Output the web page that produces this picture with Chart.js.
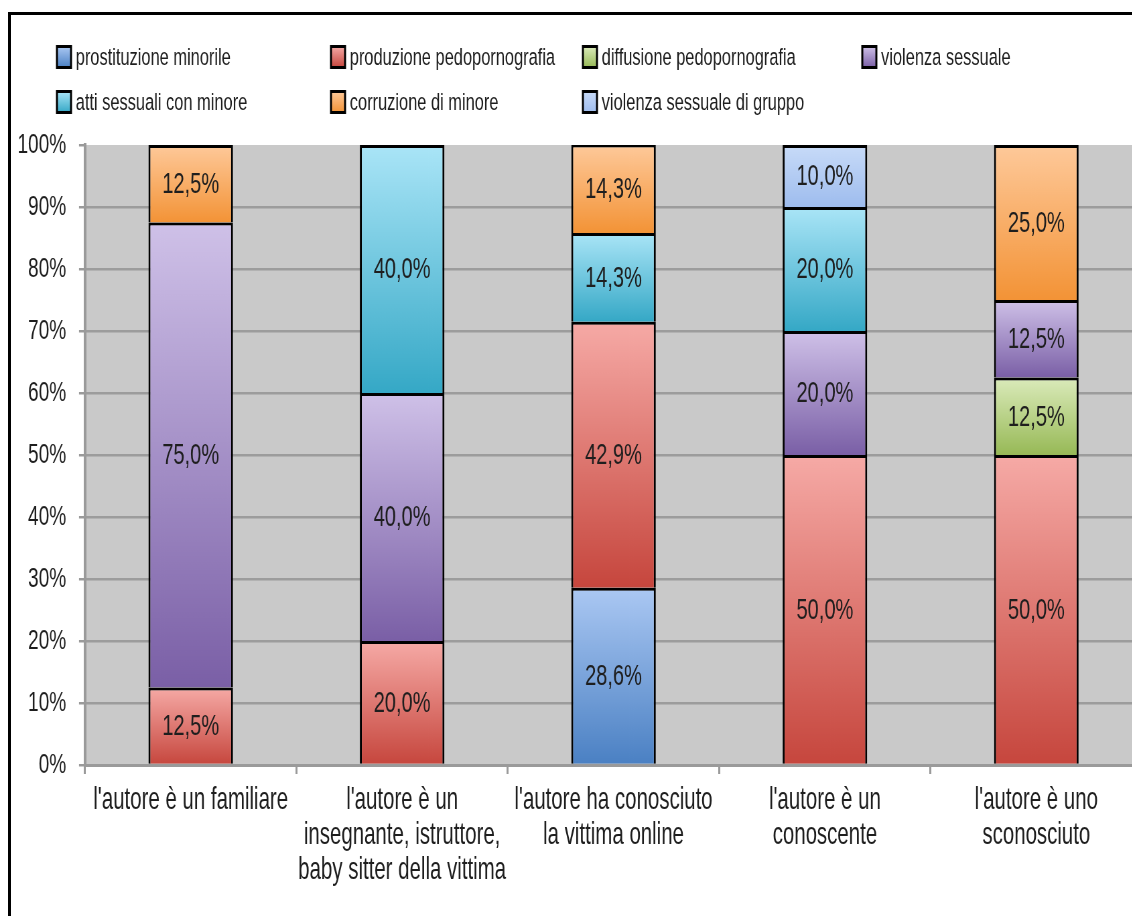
<!DOCTYPE html>
<html lang="it">
<head>
<meta charset="utf-8">
<script src="https://cdn.jsdelivr.net/npm/chart.js@4/dist/chart.umd.min.js"></script>
<style>
  html, body { margin: 0; padding: 0; background: #fff; overflow: hidden; width: 1132px; height: 916px; }
  #frame { position: absolute; left: 8px; top: 12px; width: 1300px; height: 1000px;
           border-left: 3px solid #000; border-top: 3px solid #000; }
  /* the chart is laid out on a wider canvas and narrowed horizontally for a condensed look */
  #wrap { position: absolute; left: 0; top: 0; width: 1716px; height: 916px;
          transform: scaleX(0.67); transform-origin: 0 0; }
</style>
</head>
<body>
<div id="frame"></div>
<div id="wrap"><canvas id="chart" width="1716" height="916"></canvas></div>
<script>
// ---- data ----
const categories = [
  "l'autore è un familiare",
  ["l'autore è un", "insegnante, istruttore,", "baby sitter della vittima"],
  ["l'autore ha conosciuto", "la vittima online"],
  ["l'autore è un", "conoscente"],
  ["l'autore è uno", "sconosciuto"]
];
const seriesNames = [
  'prostituzione minorile',
  'produzione pedopornografia',
  'diffusione pedopornografia',
  'violenza sessuale',
  'atti sessuali con minore',
  'corruzione di minore',
  'violenza sessuale di gruppo'
];
const prostituzioneMinorile   = [null, null, 28.6, null, null];
const produzionePedoporno     = [12.5, 20.0, 42.9, 50.0, 50.0];
const diffusionePedoporno     = [null, null, null, null, 12.5];
const violenzaSessuale        = [75.0, 40.0, null, 20.0, 12.5];
const attiSessuali            = [null, 40.0, 14.3, 20.0, null];
const corruzioneMinore        = [12.5, null, 14.3, null, 25.0];
const violenzaGruppo          = [null, null, null, 10.0, null];
const yTickValues = [0, 10, 20, 30, 40, 50, 60, 70, 80, 90, 100];

// ---- styling ----
const FONT = "'Liberation Sans', Arial, Helvetica, sans-serif";
const TEXT = '#1e1e1e';
const fills = [               // [top, bottom] of each segment's gradient
  ['#abc8f3', '#4a80c3'],
  ['#f6aaa6', '#c6463d'],
  ['#dbebbb', '#97b956'],
  ['#cfc1e8', '#7a5fa6'],
  ['#aae5f7', '#35a8c6'],
  ['#fec99a', '#f39336'],
  ['#c8dbf8', '#9ebcee']
];
const seriesValues = [prostituzioneMinorile, produzionePedoporno, diffusionePedoporno,
  violenzaSessuale, attiSessuali, corruzioneMinore, violenzaGruppo];

function segmentFill(ctx) {
  const pair = fills[ctx.datasetIndex];
  const chart = ctx.chart;
  if (ctx.type !== 'data' || !chart.chartArea || !chart.scales.y) return pair[0];
  let start = 0;
  for (let d = 0; d < ctx.datasetIndex; d++) start += chart.data.datasets[d].data[ctx.dataIndex] || 0;
  const end = start + (ctx.raw || 0);
  const top = chart.scales.y.getPixelForValue(Math.min(end, 100));
  const bottom = chart.scales.y.getPixelForValue(start);
  if (!isFinite(top) || !isFinite(bottom) || top === bottom) return pair[0];
  const g = chart.ctx.createLinearGradient(0, top, 0, bottom);
  g.addColorStop(0, pair[0]);
  g.addColorStop(1, pair[1]);
  return g;
}

const datasets = seriesNames.map((name, i) => ({
  label: name,
  data: seriesValues[i],
  backgroundColor: segmentFill,
  borderColor: '#000',
  borderWidth: 3,
  borderSkipped: 'start',
  barPercentage: 0.4,
  categoryPercentage: 1.0
}));

// gray plot background
const plotBackground = {
  id: 'plotBackground',
  beforeDraw(chart) {
    const { ctx, chartArea: a } = chart;
    ctx.save();
    ctx.fillStyle = '#c9c9c9';
    ctx.fillRect(a.left, a.top, a.right - a.left, a.bottom - a.top);
    ctx.restore();
  }
};

// value written in the middle of every segment
const segmentLabels = {
  id: 'segmentLabels',
  afterDatasetsDraw(chart) {
    const ctx = chart.ctx;
    ctx.save();
    ctx.font = `30px ${FONT}`;
    ctx.fillStyle = TEXT;
    ctx.textAlign = 'center';
    ctx.textBaseline = 'middle';
    chart.data.datasets.forEach((ds, di) => {
      const meta = chart.getDatasetMeta(di);
      meta.data.forEach((el, j) => {
        const v = ds.data[j];
        if (v === null || v === undefined) return;
        const p = el.getProps(['x', 'y', 'base'], true);
        const txt = v.toFixed(1).replace('.', ',') + '%';
        ctx.fillText(txt, p.x, (p.y + p.base) / 2 + 1);
      });
    });
    ctx.restore();
  }
};

// legend laid out as a grid of four columns
const gridLegend = {
  id: 'gridLegend',
  afterDraw(chart) {
    const ctx = chart.ctx;
    const cols = [85, 494, 870, 1287];
    const rows = [57, 102];
    const box = 21;
    ctx.save();
    ctx.font = `24.5px ${FONT}`;
    ctx.textBaseline = 'middle';
    ctx.textAlign = 'left';
    chart.data.datasets.forEach((ds, i) => {
      const x = cols[i % 4];
      const y = rows[Math.floor(i / 4)];
      const g = ctx.createLinearGradient(0, y - box / 2, 0, y + box / 2);
      g.addColorStop(0, fills[i][0]);
      g.addColorStop(1, fills[i][1]);
      ctx.fillStyle = g;
      ctx.fillRect(x, y - box / 2, box, box);
      ctx.lineWidth = 3;
      ctx.strokeStyle = '#000';
      ctx.strokeRect(x, y - box / 2, box, box);
      ctx.fillStyle = TEXT;
      ctx.fillText(ds.label, x + box + 7, y + 1);
    });
    ctx.restore();
  }
};

new Chart(document.getElementById('chart'), {
  type: 'bar',
  data: { labels: categories, datasets },
  plugins: [plotBackground, segmentLabels, gridLegend],
  options: {
    responsive: false,
    animation: false,
    events: [],
    layout: { padding: { top: 145, right: 11.5, left: 0, bottom: 0 } },
    plugins: { legend: { display: false }, tooltip: { enabled: false }, title: { display: false } },
    scales: {
      x: {
        stacked: true,
        grid: { offset: true, drawOnChartArea: false, drawTicks: true, tickLength: 9,
                color: '#9a9a9a', lineWidth: 3 },
        border: { display: true, color: '#9a9a9a', width: 3 },
        ticks: { color: TEXT, font: { family: FONT, size: 30.5, lineHeight: 1.15 }, padding: 9,
                 maxRotation: 0, autoSkip: false },
        afterFit(scale) { scale.height = 151; }
      },
      y: {
        stacked: true,
        min: 0, max: 100,
        afterBuildTicks(scale) { scale.ticks = yTickValues.map(v => ({ value: v })); },
        grid: {
          color: (c) => (c.tick && c.tick.value === 100 ? 'rgba(0,0,0,0)' : '#9c9c9c'),
          tickColor: '#9a9a9a', lineWidth: 2.5, drawTicks: true, tickLength: 9
        },
        border: { display: true, color: '#9a9a9a', width: 4 },
        ticks: { color: TEXT, font: { family: FONT, size: 28.5 }, padding: 19,
                 callback: (v) => v + '%' },
        afterFit(scale) { scale.width = 126.9; }
      }
    }
  }
});
</script>
</body>
</html>
